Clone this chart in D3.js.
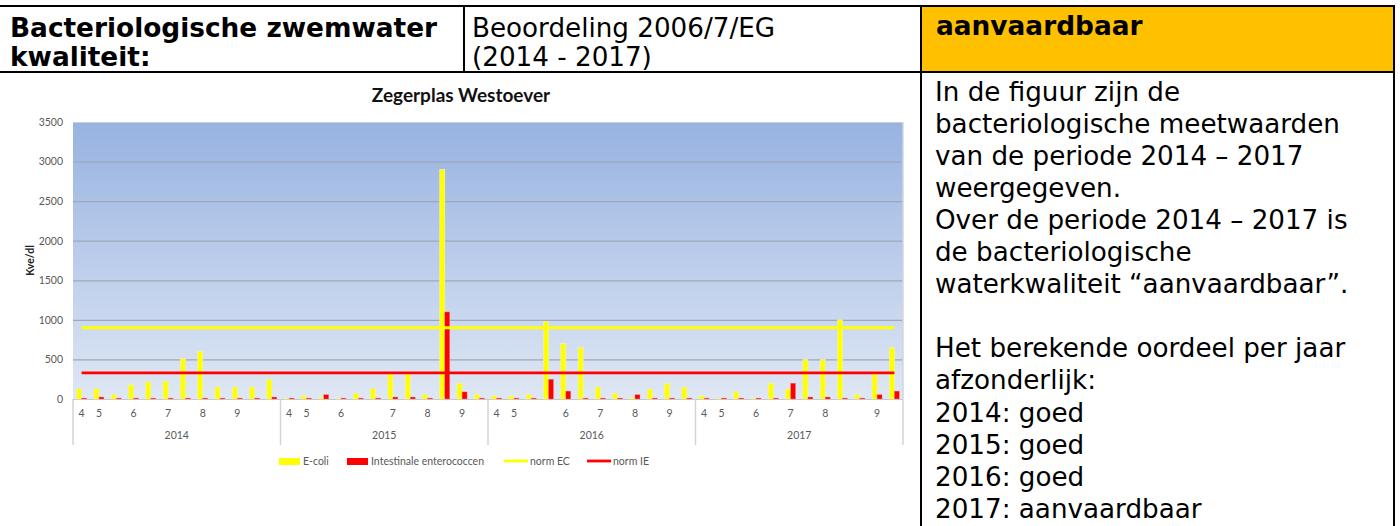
<!DOCTYPE html>
<html><head><meta charset="utf-8">
<script src="https://cdn.jsdelivr.net/npm/d3@7"></script>
<style>body{margin:0;background:#fff;overflow:hidden}</style>
</head><body>
<svg id="c" width="1400" height="526"></svg>
<script>
// ---------- data ----------
const years = ["2014", "2015", "2016", "2017"];
const monthLabels = [
  "4","5","","6","","7","","8","","9","","",
  "4","5","","6","","","7","","8","","9","",
  "4","5","","","6","","7","","8","","9","",
  "4","5","","6","","7","","8","","","9",""
];
const eColi = [
  130,130,55,180,215,225,510,600,150,150,150,245,
  10,40,20,10,70,130,320,345,55,2900,200,60,
  40,40,55,980,700,650,150,70,20,125,195,150,
  40,10,90,10,200,125,500,500,1000,55,345,650
];
const enterococci = [
  12,25,12,12,12,12,12,12,12,12,12,25,
  12,12,55,12,12,12,25,25,12,1100,90,12,
  12,12,12,250,100,12,12,12,55,12,12,12,
  12,12,12,12,12,200,25,25,12,12,55,100
];
const normEC = 900;
const normIE = 330;
const yTicks = [0, 500, 1000, 1500, 2000, 2500, 3000, 3500];
const seriesNames = ["E-coli", "Intestinale enterococcen", "norm EC", "norm IE"];
const chartTitle = "Zegerplas Westoever";
const yAxisTitle = "Kve/dl";
const headerLeft = ["Bacteriologische zwemwater", "kwaliteit:"];
const headerMid = ["Beoordeling 2006/7/EG", "(2014 - 2017)"];
const headerRight = "aanvaardbaar";
const bodyLines = [
  "In de figuur zijn de",
  "bacteriologische meetwaarden",
  "van de periode 2014 \u2013 2017",
  "weergegeven.",
  "Over de periode 2014 \u2013 2017 is",
  "de bacteriologische",
  "waterkwaliteit \u201Caanvaardbaar\u201D.",
  "",
  "Het berekende oordeel per jaar",
  "afzonderlijk:",
  "2014: goed",
  "2015: goed",
  "2016: goed",
  "2017: aanvaardbaar"
];

// ---------- setup ----------
const svg = d3.select("#c");
const defs = svg.append("defs");
const TXT = "'DejaVu Sans', Verdana, sans-serif";
const CH = "Lato, 'Open Sans', sans-serif";

// ---------- table ----------
svg.append("rect").attr("x", 921).attr("y", 7).attr("width", 473).attr("height", 65).attr("fill", "#FFC000");

const tbl = svg.append("g").attr("stroke", "#000").attr("stroke-width", 2);
tbl.append("line").attr("x1", 0).attr("x2", 1395).attr("y1", 6).attr("y2", 6);
tbl.append("line").attr("x1", 0).attr("x2", 1395).attr("y1", 72).attr("y2", 72);
tbl.append("line").attr("x1", 464).attr("x2", 464).attr("y1", 6).attr("y2", 72);
tbl.append("line").attr("x1", 921).attr("x2", 921).attr("y1", 6).attr("y2", 526);
tbl.append("line").attr("x1", 1394).attr("x2", 1394).attr("y1", 6).attr("y2", 526);

// measure scale factors so DejaVu matches the Verdana widths of the reference
const meas = svg.append("text").attr("font-family", TXT).attr("font-size", 26.67).text("bacteriologische meetwaarden");
const sxReg = 405 / meas.node().getComputedTextLength();
meas.attr("font-weight", "bold").text("Bacteriologische zwemwater");
const sxBold = 427 / meas.node().getComputedTextLength();
meas.remove();

function put(str, x, y, bold) {
  const g = svg.append("g").attr("transform", `translate(${x},${y}) scale(${bold ? sxBold : sxReg},1)`);
  g.append("text").attr("font-family", TXT).attr("font-size", 26.67)
    .attr("font-weight", bold ? "bold" : "normal").attr("fill", "#000").text(str);
}
put(headerLeft[0], 10, 37, true);
put(headerLeft[1], 10, 66, true);
put(headerMid[0], 472, 37, false);
put(headerMid[1], 472, 66, false);
put(headerRight, 936, 35, true);
bodyLines.forEach((s, i) => { if (s) put(s, 935, 100.5 + i * 32.1, false); });

// ---------- chart ----------
const L = 73, R = 903, T = 122, B = 399;
const ids = d3.range(eColi.length);
const x = d3.scaleBand().domain(ids).range([L, R]).padding(0);
const bw = x.bandwidth();
const xs = d3.scaleBand().domain(["ec", "ie"]).range([0, bw]).paddingInner(0).paddingOuter(0.73);
const y = d3.scaleLinear().domain([0, 3500]).range([B, T]);
const yearX = d3.scaleBand().domain(years).range([L, R]);

const grad = defs.append("linearGradient").attr("id", "bg").attr("x1", 0).attr("y1", 0).attr("x2", 0).attr("y2", 1);
grad.append("stop").attr("offset", "0%").attr("stop-color", "#97B3E1");
grad.append("stop").attr("offset", "100%").attr("stop-color", "#DFE7F4");
svg.append("rect").attr("x", L).attr("y", T).attr("width", R - L).attr("height", B - T).attr("fill", "url(#bg)");

// gridlines + y labels
const yAxis = svg.append("g").attr("transform", `translate(${L},0)`)
  .call(d3.axisLeft(y).tickValues(yTicks).tickSize(-(R - L)).tickPadding(10).tickFormat(d3.format("d")));
yAxis.select(".domain").remove();
yAxis.selectAll(".tick line").attr("stroke", "#9FA8B8").attr("stroke-width", 1.2);
yAxis.selectAll(".tick").filter(d => d === 3500).select("line").attr("stroke", "#C9D0DC");
yAxis.selectAll(".tick").filter(d => d === 0).select("line").attr("stroke", "#C8C8C8");
yAxis.selectAll(".tick text").attr("font-family", CH).attr("font-size", 10.5).attr("fill", "#595959");
svg.append("line").attr("x1", R).attr("x2", R).attr("y1", T).attr("y2", B).attr("stroke", "#D0D6E0").attr("stroke-width", 1.5);

// bars
const grp = svg.append("g");
grp.selectAll("rect.ec").data(ids).join("rect").attr("class", "ec")
  .attr("x", i => x(i) + xs("ec")).attr("width", xs.bandwidth())
  .attr("y", i => y(eColi[i])).attr("height", i => y(0) - y(eColi[i]))
  .attr("fill", "#FFFF00").attr("stroke", "#F4F4A8").attr("stroke-width", 0.6);
grp.selectAll("rect.ie").data(ids).join("rect").attr("class", "ie")
  .attr("x", i => x(i) + xs("ie")).attr("width", xs.bandwidth())
  .attr("y", i => y(enterococci[i])).attr("height", i => y(0) - y(enterococci[i]))
  .attr("fill", "#FF0000").attr("stroke", "#F09090").attr("stroke-width", 0.4);

// norm lines
const lineGen = v => d3.line().x(i => x(i) + bw / 2).y(() => y(v))(ids);
svg.append("path").attr("d", lineGen(normEC)).attr("stroke", "#FFFF00").attr("stroke-width", 2.8).attr("fill", "none");
svg.append("path").attr("d", lineGen(normIE)).attr("stroke", "#FF0000").attr("stroke-width", 2.8).attr("fill", "none");

// category axis (months)
const xAxis = svg.append("g").attr("transform", `translate(0,${B})`)
  .call(d3.axisBottom(x).tickSize(0).tickPadding(11).tickFormat(i => monthLabels[i]));
xAxis.select(".domain").remove();
xAxis.selectAll(".tick text").attr("font-family", CH).attr("font-size", 10.5).attr("fill", "#595959");

// year axis
const yrAxis = svg.append("g").attr("transform", `translate(0,${B})`)
  .call(d3.axisBottom(yearX).tickSize(0).tickPadding(33));
yrAxis.select(".domain").remove();
yrAxis.selectAll(".tick text").attr("font-family", CH).attr("font-size", 10.5).attr("fill", "#595959");
const seps = years.map(yr => yearX(yr)).concat([R]);
svg.selectAll("line.sep").data(seps).join("line").attr("class", "sep")
  .attr("x1", d => d).attr("x2", d => d).attr("y1", B).attr("y2", 445)
  .attr("stroke", "#D4D4D4").attr("stroke-width", 1.5);

// titles
svg.append("text").attr("x", 461).attr("y", 102).attr("text-anchor", "middle")
  .attr("font-family", CH).attr("font-weight", "bold").attr("font-size", 19).attr("fill", "#111").text(chartTitle);
svg.append("text").attr("transform", `translate(34,${(T + B) / 2}) rotate(-90)`).attr("text-anchor", "middle")
  .attr("font-family", CH).attr("font-weight", "bold").attr("font-size", 10.5).attr("fill", "#222").text(yAxisTitle);

// legend
const lg = svg.append("g").attr("font-family", CH).attr("font-size", 10.5).attr("fill", "#595959");
const legendItems = [
  { name: seriesNames[0], x: 279, kind: "box", color: "#FFFF00" },
  { name: seriesNames[1], x: 347, kind: "box", color: "#FF0000" },
  { name: seriesNames[2], x: 504, kind: "line", color: "#FFFF00" },
  { name: seriesNames[3], x: 587, kind: "line", color: "#FF0000" }
];
legendItems.forEach(it => {
  if (it.kind === "box") lg.append("rect").attr("x", it.x).attr("y", 458).attr("width", 21).attr("height", 7).attr("fill", it.color);
  else lg.append("line").attr("x1", it.x).attr("x2", it.x + 24).attr("y1", 461).attr("y2", 461).attr("stroke", it.color).attr("stroke-width", 2.8);
  lg.append("text").attr("x", it.x + 24 + (it.kind === "box" ? 0 : 2)).attr("y", 465).text(it.name);
});
</script>
</body></html>
